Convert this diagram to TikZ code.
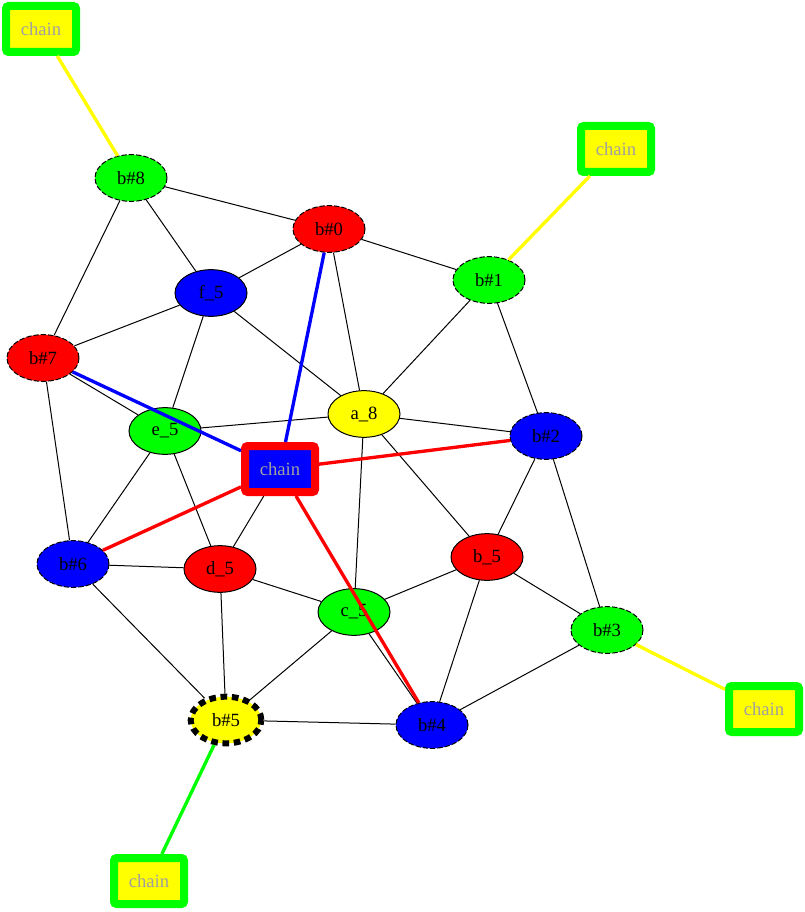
\documentclass[tikz,border=0pt]{standalone}
\usepackage{fontspec}
\setmainfont{Liberation Serif}
\usetikzlibrary{shapes.geometric}
\definecolor{gG}{RGB}{0,255,0}
\definecolor{gR}{RGB}{255,0,0}
\definecolor{gB}{RGB}{0,0,255}
\definecolor{gY}{RGB}{255,255,0}
\definecolor{gGray}{RGB}{160,160,160}
\begin{document}
\begin{tikzpicture}[x=0.75pt,y=-0.75pt,
  font=\fontsize{14pt}{16pt}\selectfont,
  nd/.style={ellipse,draw=black,line width=0.75pt,minimum width=54pt,minimum height=35pt,inner sep=0pt},
  dsh/.style={dash pattern=on 4pt off 1.5pt},
  chainbox/.style={rectangle,rounded corners=2pt,line width=6pt,minimum width=52.5pt,minimum height=34.5pt,inner sep=0pt,text=gGray},
  edge/.style={line width=0.75pt,black},
  cedge/.style={line width=2.5pt}]
\useasboundingbox (0,0) rectangle (805,912);
% nodes
\node[nd,dsh,fill=gG] (b8) at (131,178) {b\#8};
\node[nd,dsh,fill=gR] (b0) at (329,229) {b\#0};
\node[nd,dsh,fill=gG] (b1) at (489,280) {b\#1};
\node[nd,fill=gB] (f5) at (211,293) {f\_5};
\node[nd,dsh,fill=gR] (b7) at (43,358) {b\#7};
\node[nd,fill=gY] (a8) at (364,414) {a\_8};
\node[nd,fill=gG] (e5) at (165,431) {e\_5};
\node[nd,dsh,fill=gB] (b2) at (546,436) {b\#2};
\node[nd,dsh,fill=gB] (b6) at (73,564) {b\#6};
\node[nd,fill=gR] (d5) at (220,569) {d\_5};
\node[nd,fill=gR] (b_5) at (487,557) {b\_5};
\node[nd,fill=gG] (c5) at (354,612) {c\_5};
\node[nd,dsh,fill=gG] (b3) at (607,630) {b\#3};
\node[nd,fill=gY,line width=4.5pt,dash pattern=on 5pt off 3.5pt,minimum width=53pt,minimum height=35pt] (b5) at (226,720) {b\#5};
\node[nd,dsh,fill=gB] (b4) at (432,725) {b\#4};
\node[chainbox,draw=gG,fill=gY] (cTL) at (41,29) {chain};
\node[chainbox,draw=gG,fill=gY] (cTR) at (616,149) {chain};
\node[chainbox,draw=gG,fill=gY] (cR) at (764,709) {chain};
\node[chainbox,draw=gG,fill=gY] (cBL) at (149,881) {chain};
\node[chainbox,draw=gR,fill=gB] (cC) at (280,469) {chain};
% black edges
\foreach \a/\b in {b8/b0,b8/f5,b8/b7,b0/f5,b0/b1,b0/a8,b1/a8,b1/b2,
  f5/b7,f5/e5,f5/a8,b7/e5,b7/b6,e5/a8,e5/b6,e5/d5,a8/b2,a8/c5,a8/b_5,
  b2/b_5,b2/b3,b6/d5,b6/b5,d5/c5,d5/b5,cC/d5,c5/b_5,c5/b5,c5/b4,
  b_5/b3,b_5/b4,b3/b4,b5/b4}
  \draw[edge] (\a) -- (\b);
% coloured edges
\draw[cedge,gB] (cC) -- (b0);
\draw[cedge,gB] (cC) -- (b7);
\draw[cedge,gR] (cC) -- (b2);
\draw[cedge,gR] (cC) -- (b6);
\draw[cedge,gR] (cC) -- (b4);
\draw[cedge,gY] (cTL) -- (b8);
\draw[cedge,gY] (cTR) -- (b1);
\draw[cedge,gY] (cR) -- (b3);
\draw[cedge,gG] (cBL) -- (b5);
\end{tikzpicture}
\end{document}
